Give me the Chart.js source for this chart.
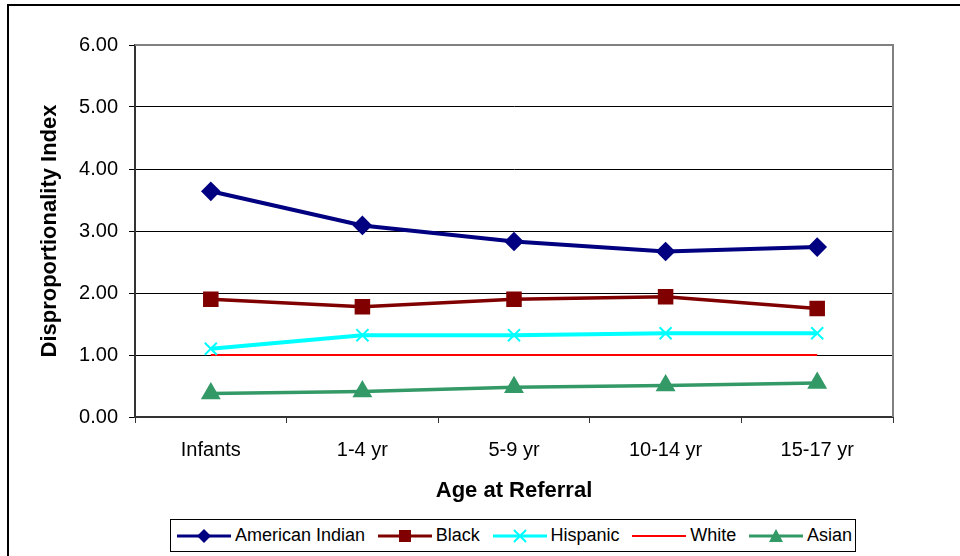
<!DOCTYPE html>
<html>
<head>
<meta charset="utf-8">
<script src="https://cdn.jsdelivr.net/npm/chart.js@4/dist/chart.umd.min.js"></script>
<style>
  html, body { margin: 0; padding: 0; background: #fff; overflow: hidden; }
  #wrap { position: relative; width: 960px; height: 556px; overflow: hidden; }
  #frame { position: absolute; left: 7px; top: 4px; width: 1000px; height: 600px; border: 2px solid #000; box-sizing: border-box; }
  #chart { position: absolute; left: 0; top: 0; }
  #legend {
    position: absolute; left: 170px; top: 519px; width: 686px; height: 33px;
    border: 1px solid #000; box-sizing: border-box; background: #fff;
    display: flex; align-items: center; justify-content: space-between; padding: 0 3px 0 6px;
    font-family: Arial, "Liberation Sans", sans-serif; font-size: 18px; color: #000;
  }
  #legend .item { display: flex; align-items: center; white-space: nowrap; }
  #legend svg { margin-right: 4px; }
</style>
</head>
<body>
<div id="wrap">
  <div id="frame"></div>
  <canvas id="chart" width="960" height="556"></canvas>
  <div id="legend"></div>
</div>
<script>
// Age groups along the x axis
const ageGroups = ['Infants', '1-4 yr', '5-9 yr', '10-14 yr', '15-17 yr'];

// Disproportionality index by race/ethnicity
const americanIndian = [3.64, 3.09, 2.83, 2.67, 2.74];
const black          = [1.90, 1.78, 1.90, 1.94, 1.75];
const hispanic       = [1.10, 1.32, 1.32, 1.35, 1.35];
const white          = [1.00, 1.00, 1.00, 1.00, 1.00];
const asian          = [0.38, 0.41, 0.48, 0.51, 0.55];

// Value axis
const yMin = 0, yMax = 6, yStep = 1;

const FONT = 'Arial, "Liberation Sans", sans-serif';

const datasets = [
  { label: 'American Indian', data: americanIndian, borderColor: '#000080', backgroundColor: '#000080',
    borderWidth: 4, pointStyle: 'rectRot', pointRadius: 7, marker: 'diamond' },
  { label: 'Black', data: black, borderColor: '#800000', backgroundColor: '#800000',
    borderWidth: 3.5, pointStyle: 'rect', pointRadius: 8.5, marker: 'square' },
  { label: 'Hispanic', data: hispanic, borderColor: '#00FFFF', backgroundColor: '#00FFFF',
    borderWidth: 4, pointStyle: 'crossRot', pointRadius: 8.5, pointBorderWidth: 2, marker: 'cross' },
  { label: 'White', data: white, borderColor: '#FF0000', backgroundColor: '#FF0000',
    borderWidth: 2, pointRadius: 0, marker: 'none' },
  { label: 'Asian', data: asian, borderColor: '#339966', backgroundColor: '#339966',
    borderWidth: 3.5, pointStyle: 'triangle', pointRadius: 8, marker: 'triangle' }
].map(d => Object.assign({ fill: false, tension: 0, pointHoverRadius: d.pointRadius }, d));

// Gray frame on the top and right sides of the plot area
const plotFrame = {
  id: 'plotFrame',
  afterDraw(chart) {
    const { ctx, chartArea: a } = chart;
    ctx.save();
    ctx.strokeStyle = '#808080';
    ctx.lineWidth = 2;
    ctx.beginPath();
    ctx.moveTo(a.left, a.top);
    ctx.lineTo(a.right, a.top);
    ctx.lineTo(a.right, a.bottom);
    ctx.stroke();
    ctx.restore();
  }
};

const chart = new Chart(document.getElementById('chart'), {
  type: 'line',
  data: { labels: ageGroups, datasets },
  options: {
    responsive: false,
    animation: false,
    devicePixelRatio: 1,
    layout: { padding: { top: 45, right: 67, left: 0, bottom: 0 } },
    plugins: { legend: { display: false }, tooltip: { enabled: false } },
    scales: {
      x: {
        type: 'category',
        offset: true,
        afterFit(scale) { scale.height = 139; },
        grid: { display: true, drawOnChartArea: false, drawTicks: true, tickLength: 6, color: '#333', offset: true },
        border: { display: true, color: '#333', width: 2 },
        ticks: { color: '#000', font: { family: FONT, size: 20 }, padding: 15, maxRotation: 0 },
        title: { display: true, text: 'Age at Referral', color: '#000',
                 font: { family: FONT, size: 22, weight: 'bold' }, padding: { top: 0, bottom: 52 } }
      },
      y: {
        min: yMin, max: yMax,
        afterFit(scale) { scale.width = 135; },
        grid: { color: '#000', lineWidth: 1, tickLength: 6, drawTicks: true },
        border: { display: true, color: '#333', width: 2 },
        ticks: { stepSize: yStep, color: '#000', font: { family: FONT, size: 20 }, padding: 11,
                 callback: v => Number(v).toFixed(2) },
        title: { display: true, text: 'Disproportionality Index', color: '#000',
                 font: { family: FONT, size: 22, weight: 'bold' }, padding: { top: 37, bottom: 0 } }
      }
    }
  },
  plugins: [plotFrame]
});

// Legend: line sample with the series marker, followed by the series name
function markerSvg(ds) {
  const c = ds.borderColor;
  let m = '';
  if (ds.marker === 'diamond') m = `<polygon points="27,1 34,8 27,15 20,8" fill="${c}"/>`;
  else if (ds.marker === 'square') m = `<rect x="21" y="2" width="12" height="12" fill="${c}"/>`;
  else if (ds.marker === 'cross') m = `<path d="M21,2 L33,14 M33,2 L21,14" stroke="${c}" stroke-width="2"/>`;
  else if (ds.marker === 'triangle') m = `<polygon points="27,1 34,14 20,14" fill="${c}"/>`;
  return `<svg width="54" height="16" viewBox="0 0 54 16"><line x1="0" y1="8" x2="54" y2="8" stroke="${c}" stroke-width="${Math.min(ds.borderWidth, 3)}"/>${m}</svg>`;
}
document.getElementById('legend').innerHTML = chart.data.datasets
  .map(ds => `<div class="item">${markerSvg(ds)}<span>${ds.label}</span></div>`).join('');
</script>
</body>
</html>
